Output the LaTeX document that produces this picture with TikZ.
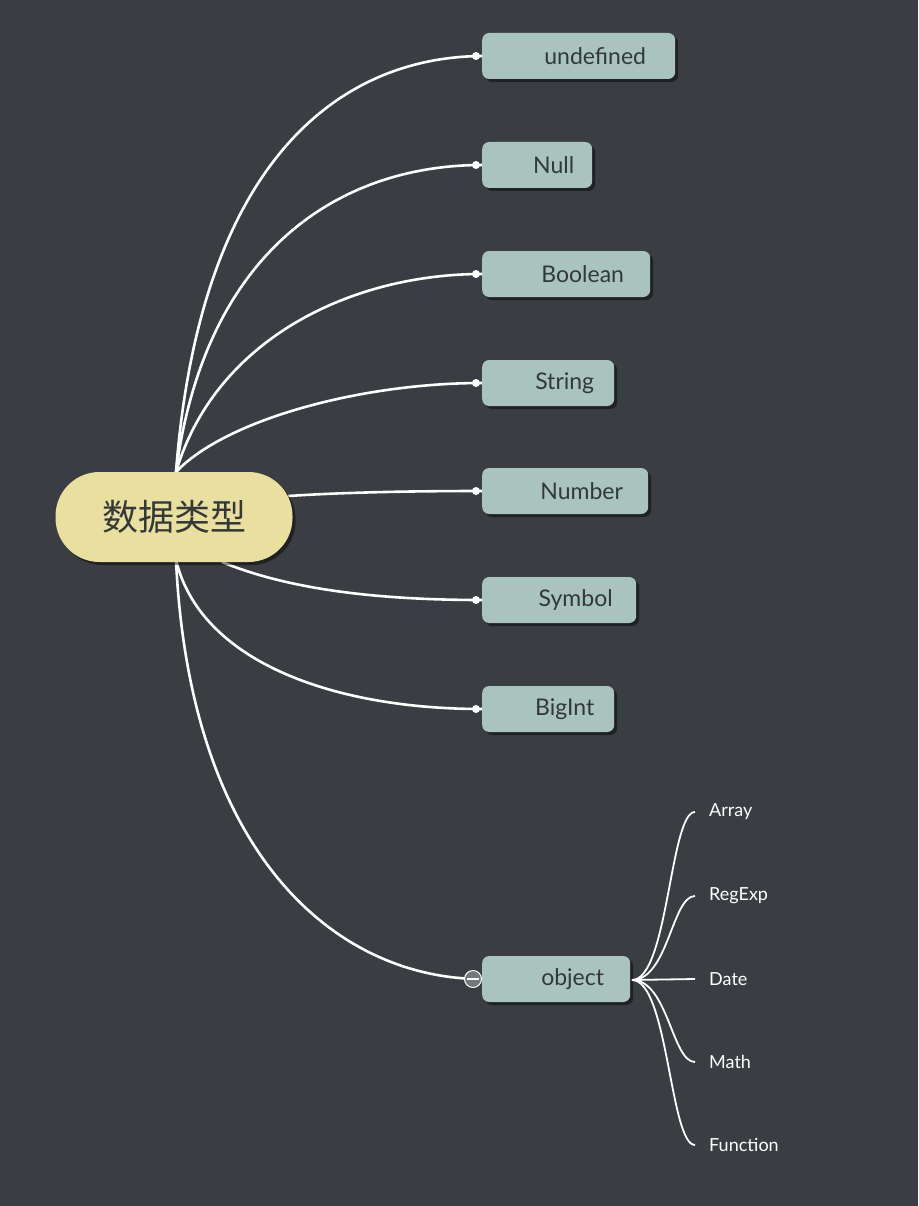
\documentclass[tikz,border=0pt]{standalone}
\usepackage{fontspec}
\setmainfont{Lato}
\newfontfamily\cjk{Noto Sans CJK SC}
\usetikzlibrary{shadows}
\definecolor{bg}{HTML}{3A3E42}
\definecolor{leaf}{HTML}{A9C4BD}
\definecolor{rootc}{HTML}{E9DF9E}
\definecolor{txt}{HTML}{333838}
\begin{document}
\begin{tikzpicture}[x=1pt,y=-1pt,
  leafbox/.style={fill=leaf,rounded corners=7pt,minimum height=46pt,anchor=west,inner xsep=0pt,
     text=txt,font=\fontsize{23}{26}\selectfont,
     drop shadow={shadow xshift=3pt,shadow yshift=-3pt,fill=black,opacity=0.45}},
  link/.style={white,line width=2.6pt},
  sub/.style={white,line width=1.8pt},
  dotend/.style={fill=white,circle,inner sep=0pt,minimum size=8pt},
  sublabel/.style={text=white,anchor=west,font=\fontsize{18}{20}\selectfont,inner sep=0pt}]
\fill[bg] (0,0) rectangle (918,1206);
% leaves
\node[leafbox,minimum width=193pt] (u) at (482,56) {\hspace*{33pt}undefined\hfill};
\node[leafbox,minimum width=110pt] (n) at (482,165) {\hspace*{33pt}Null\hfill};
\node[leafbox,minimum width=168pt] (b) at (482,274) {\hspace*{33pt}Boolean\hfill};
\node[leafbox,minimum width=132pt] (s) at (482,383) {\hspace*{33pt}String\hfill};
\node[leafbox,minimum width=166pt] (nu) at (482,491) {\hspace*{33pt}Number\hfill};
\node[leafbox,minimum width=154pt] (sy) at (482,600) {\hspace*{33pt}Symbol\hfill};
\node[leafbox,minimum width=132pt] (bi) at (482,709) {\hspace*{33pt}BigInt\hfill};
\node[leafbox,minimum width=148pt] (o) at (482,979) {\hspace*{33pt}object\hfill};
% root
\coordinate (rt) at (176,472);
\coordinate (rb) at (176,560);
\coordinate (rr) at (288,496);
\coordinate (rs) at (222,562);
\draw[link] (rt) .. controls (200,160) and (340,57) .. (u.west);
\draw[link] (rt) .. controls (205,250) and (340,165) .. (n.west);
\draw[link] (rt) .. controls (215,340) and (350,274) .. (b.west);
\draw[link] (rt) .. controls (225,420) and (360,383) .. (s.west);
\draw[link] (rr) .. controls (350,492) and (420,491) .. (nu.west);
\draw[link] (rs) .. controls (290,590) and (380,600) .. (sy.west);
\draw[link] (rb) .. controls (200,660) and (330,709) .. (bi.west);
\draw[link] (rb) .. controls (190,860) and (340,979) .. (o.west);
\node[fill=rootc,rounded corners=44pt,minimum width=237pt,minimum height=90pt,text=txt,
  font=\cjk\fontsize{36}{40}\selectfont,
  drop shadow={shadow xshift=3pt,shadow yshift=-3pt,fill=black,opacity=0.45}] (root) at (174,517) {数据类型};
\foreach \t in {u,n,b,s,nu,sy,bi} \node[dotend] at ([xshift=-6pt]\t.west) {};
\node[draw=white,line width=1pt,fill=bg!70!white,circle,minimum size=17pt,inner sep=0pt] (oc) at ([xshift=-9pt]o.west) {};
\draw[white,line width=1.2pt] ([xshift=-6pt]oc.center) -- ([xshift=6pt]oc.center);
% object children
\coordinate (os) at (632,980);
\node[sublabel] (a1) at (709,812) {Array};
\node[sublabel] (a2) at (709,896) {RegExp};
\node[sublabel] (a3) at (709,979) {Date};
\node[sublabel] (a4) at (709,1062) {Math};
\node[sublabel] (a5) at (709,1145) {Function};
\draw[sub] (os) .. controls (668,980) and (670,812) .. ([xshift=-14pt]a1.west);
\draw[sub] (os) .. controls (668,980) and (672,896) .. ([xshift=-14pt]a2.west);
\draw[sub] (os) -- ([xshift=-14pt]a3.west);
\draw[sub] (os) .. controls (668,980) and (672,1062) .. ([xshift=-14pt]a4.west);
\draw[sub] (os) .. controls (668,980) and (670,1145) .. ([xshift=-14pt]a5.west);
\end{tikzpicture}
\end{document}
